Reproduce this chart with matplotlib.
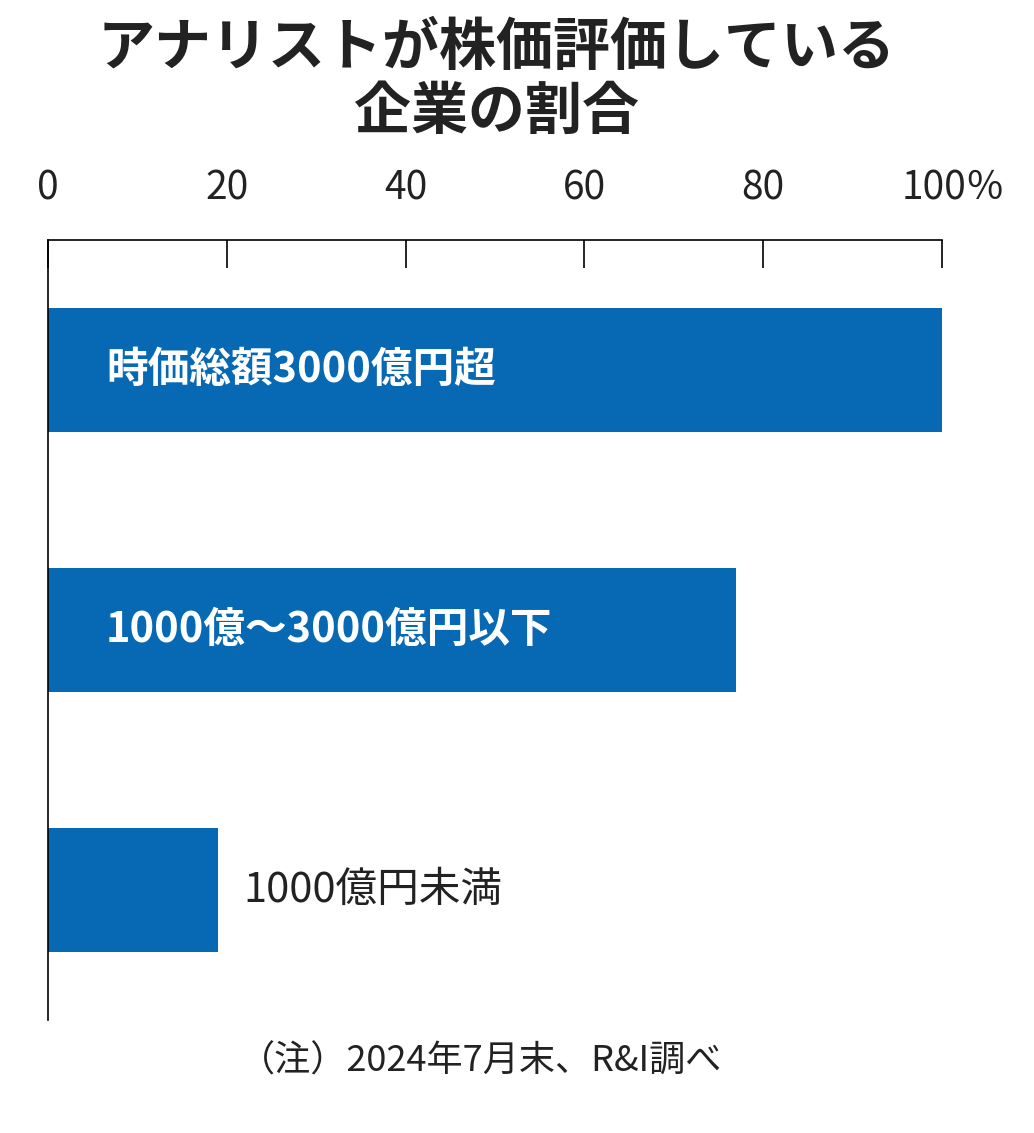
import matplotlib
matplotlib.use("Agg")
import matplotlib.pyplot as plt

plt.rcParams['font.family'] = ['Noto Sans CJK JP', 'DejaVu Sans']

categories = ["時価総額3000億円超", "1000億～3000億円以下", "1000億円未満"]
values = [100, 77, 19]
ticks = [0, 20, 40, 60, 80, 100]
tick_labels = ["0", "20", "40", "60", "80", "100％"]
color = "#0768B4"

fig = plt.figure(figsize=(10.34, 11.33), dpi=100)
ax = fig.add_axes([48/1034, 1-1020/1133, (942-48)/1034, (1020-240)/1133])
ypos = list(range(len(categories)))
ax.barh(ypos, values, height=0.48, color=color)
ax.set_xlim(0, 100)
ax.set_ylim(2.5, -0.5)
for s in ["right", "bottom", "top"]:
    ax.spines[s].set_visible(False)
ax.spines["left"].set_linewidth(1.2)
ax.set_yticks([])
ax.xaxis.tick_top()
ax.set_xticks(ticks)
ax.set_xticklabels([])
ax.tick_params(axis='x', direction='in', length=20, width=1.2, color='black')
ax.plot([0, 100], [-0.5, -0.5], color='black', lw=1.2, clip_on=False)
for t, lab in zip(ticks, tick_labels):
    ha = 'center'
    x = t
    if t == 100:
        ha = 'left'; x = 100 - 4.5
    ax.text(x, -0.62, lab, ha=ha, va='bottom', fontsize=28, color='#222222')

for i, (c, v) in enumerate(zip(categories, values)):
    if v > 40:
        ax.text(6.5, i, c, ha='left', va='center', fontsize=30, fontweight='bold', color='white')
    else:
        ax.text(v + 2.8, i, c, ha='left', va='center', fontsize=30, color='#222222')

fig.text(0.48, 1-48/1133, "アナリストが株価評価している", ha='center', va='center', fontsize=41, fontweight='bold', color='#222222')
fig.text(0.48, 1-112/1133, "企業の割合", ha='center', va='center', fontsize=41, fontweight='bold', color='#222222')
fig.text(0.465, 1-1062/1133, "（注）2024年7月末、R&I調べ", ha='center', va='center', fontsize=26, color='#222222')

fig.savefig("out.png", dpi=100)
